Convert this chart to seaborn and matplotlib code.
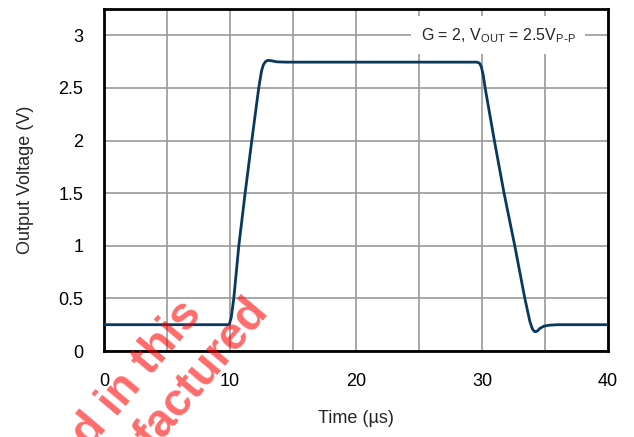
import pandas as pd
import matplotlib
matplotlib.use("Agg")
import matplotlib.pyplot as plt
from matplotlib.ticker import MultipleLocator, FormatStrFormatter
import seaborn as sns

# step response
time_us = [0, 9.8, 9.95, 10.1, 10.3, 10.7, 11.2, 11.73, 12.28, 12.5, 12.65, 12.8,
           13.0, 13.3, 13.7, 14.5, 20, 25, 29.6, 29.8, 29.95, 30.1, 30.25, 30.98,
           31.75, 32.6, 33.4, 33.8, 34.0, 34.15, 34.25, 34.4, 34.6, 34.9, 35.3,
           36.0, 38, 40]
vout = [0.25, 0.25, 0.255, 0.32, 0.5, 1.0, 1.5, 2.0, 2.5, 2.66, 2.72, 2.748,
        2.762, 2.758, 2.748, 2.745, 2.745, 2.745, 2.745, 2.735, 2.70, 2.62, 2.5, 2.0,
        1.5, 1.0, 0.5, 0.28, 0.21, 0.187, 0.183, 0.19, 0.215, 0.235, 0.245,
        0.25, 0.25, 0.25]

y_ticks = [0, 0.5, 1, 1.5, 2, 2.5, 3]
x_ticks = [0, 10, 20, 30, 40]
note = r"G = 2, V$_{\mathregular{OUT}}$ = 2.5V$_{\mathregular{P\text{-}P}}$"
# only the part of the stamp that shows inside the picture
watermark = ["d in this", "factured"]

df = pd.DataFrame({"Time": time_us, "Vout": vout})

sns.set_style("white")
plt.rcParams["font.family"] = ["Liberation Sans", "DejaVu Sans"]

fig = plt.figure(figsize=(6.34, 4.37), dpi=100)
ax = fig.add_axes([104 / 634, 1 - 351 / 437, 504 / 634, 342 / 437])

sns.lineplot(data=df, x="Time", y="Vout", ax=ax, color="#07395f", linewidth=2.0, zorder=3)

ax.set_xlim(0, 40)
ax.set_ylim(0, 3.25)
ax.set_xticks(x_ticks)
ax.xaxis.set_minor_locator(MultipleLocator(5))
ax.set_yticks(y_ticks)
ax.yaxis.set_major_formatter(FormatStrFormatter("%g"))
ax.grid(True, which="both", color="#999999", linewidth=1.2)
ax.set_axisbelow(True)
ax.tick_params(which="both", length=0, labelsize=13, colors="black")
ax.tick_params(axis="y", pad=15)
ax.tick_params(axis="x", pad=16)
for s in ax.spines.values():
    s.set_visible(True)
    s.set_color("black")
    s.set_linewidth(2)

ax.set_xlabel("Time (µs)", fontsize=13)
ax.set_ylabel("Output Voltage (V)", fontsize=13)
ax.xaxis.set_label_coords(0.5, -0.1725)
ax.yaxis.set_label_coords(-0.139, 0.5)

ax.text(31.27, 3.0, note, fontsize=11.5, ha="center", va="center", zorder=4,
        bbox=dict(facecolor="white", edgecolor="none", pad=7))

fig.text(203 / 634, 1 - 314 / 437, watermark[0], rotation=50, rotation_mode="anchor",
         ha="right", va="baseline", fontsize=33, fontweight="bold",
         color="red", alpha=0.58, zorder=10)
fig.text(270 / 634, 1 - 312 / 437, watermark[1], rotation=50, rotation_mode="anchor",
         ha="right", va="baseline", fontsize=33, fontweight="bold",
         color="red", alpha=0.58, zorder=10)

fig.savefig("out.png", dpi=100)
